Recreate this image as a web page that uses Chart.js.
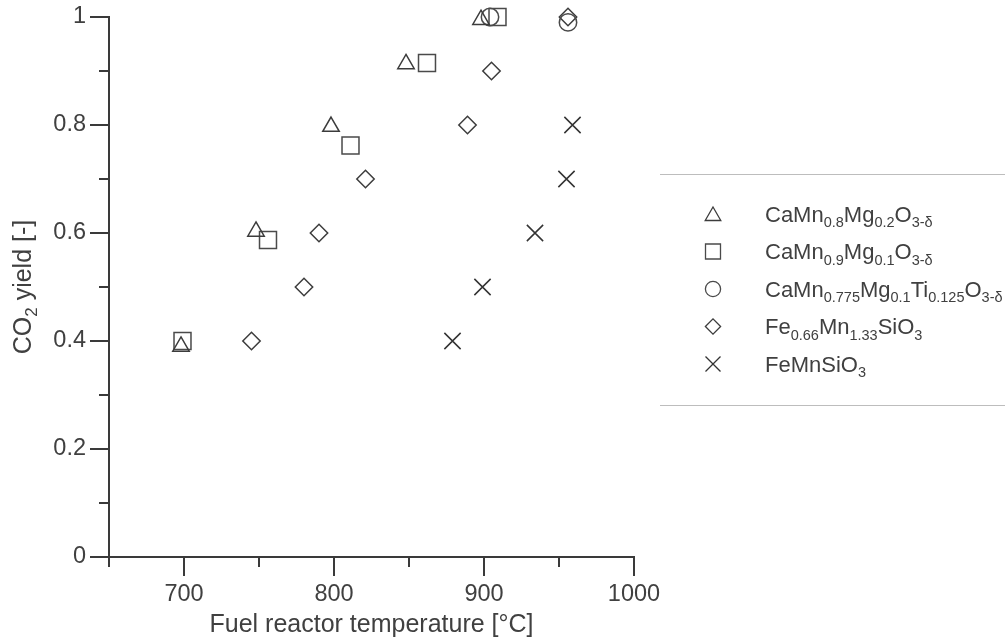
<!DOCTYPE html>
<html><head><meta charset="utf-8">
<script src="https://cdn.jsdelivr.net/npm/chart.js@4.4.0/dist/chart.umd.min.js"></script>
<style>html,body{margin:0;padding:0;background:#fff;overflow:hidden;}</style>
</head><body>
<canvas id="c" width="1005" height="642"></canvas>
<script>
// ---- data ----
const seriesNames = ['CaMn_{0.8}Mg_{0.2}O_{3-δ}', 'CaMn_{0.9}Mg_{0.1}O_{3-δ}', 'CaMn_{0.775}Mg_{0.1}Ti_{0.125}O_{3-δ}', 'Fe_{0.66}Mn_{1.33}SiO_{3}', 'FeMnSiO_{3}'];
const tempA = [698, 748, 798, 848, 898];
const yieldA = [0.39, 0.603, 0.797, 0.913, 0.995];
const tempB = [699, 756, 811, 862, 909];
const yieldB = [0.40, 0.587, 0.762, 0.915, 1.0];
const tempC = [904, 956];
const yieldC = [1.0, 0.99];
const tempD = [745, 780, 790, 821, 889, 905, 956];
const yieldD = [0.40, 0.50, 0.60, 0.70, 0.80, 0.90, 1.0];
const tempE = [879, 899, 934, 955, 959];
const yieldE = [0.40, 0.50, 0.60, 0.70, 0.80];
const xMajorTicks = [700, 800, 900, 1000];
const xMinorTicks = [650, 750, 850, 950];
const yMajorTicks = [0, 0.2, 0.4, 0.6, 0.8, 1];
const yMinorTicks = [0.1, 0.3, 0.5, 0.7, 0.9];
const xTitle = 'Fuel reactor temperature [°C]';
const yTitle = 'CO_{2} yield [-]';

const pointStyles = ['triangle', 'rect', 'circle', 'rectRot', 'crossRot'];
const pointRadii = [9.5, 12, 8.7, 8.7, 11.5];
const legendRadii = [9, 10.6, 7.6, 7.6, 10.6];
const markerColors = ['#3c3c3c', '#4a4a4a', '#4a4a4a', '#3c3c3c', '#333333'];
const TXT = '#404040';
const AXIS = '#3a3a3a';
const FONT = '"Liberation Sans", Arial, sans-serif';

const xs = [tempA, tempB, tempC, tempD, tempE];
const ys = [yieldA, yieldB, yieldC, yieldD, yieldE];
const datasets = seriesNames.map((n, i) => ({
  label: n,
  data: xs[i].map((x, j) => ({x: x, y: ys[i][j]})),
  pointStyle: pointStyles[i],
  pointRadius: pointRadii[i],
  pointHoverRadius: pointRadii[i],
  pointBorderColor: markerColors[i],
  pointBackgroundColor: 'rgba(0,0,0,0)',
  pointBorderWidth: 1.5,
  showLine: false,
  clip: false
}));

function parseRich(s) {
  const parts = []; const re = /_\{([^}]*)\}/g; let last = 0, m;
  while ((m = re.exec(s))) {
    if (m.index > last) parts.push({t: s.slice(last, m.index), sub: false});
    parts.push({t: m[1], sub: true}); last = re.lastIndex;
  }
  if (last < s.length) parts.push({t: s.slice(last), sub: false});
  return parts;
}
function drawRich(ctx, s, x, y, size, subSize, align) {
  const parts = parseRich(s);
  let w = 0;
  parts.forEach(p => { ctx.font = (p.sub ? subSize : size) + 'px ' + FONT; p.w = ctx.measureText(p.t).width; w += p.w; });
  let cx = align === 'center' ? x - w / 2 : x;
  const base = y + size * 0.36;
  ctx.textBaseline = 'alphabetic'; ctx.textAlign = 'left';
  parts.forEach(p => {
    ctx.font = (p.sub ? subSize : size) + 'px ' + FONT;
    ctx.fillText(p.t, cx, p.sub ? base + size * 0.24 : base);
    cx += p.w;
  });
}

const axesPlugin = {
  id: 'axesPlugin',
  beforeDatasetsDraw(chart) {
    const ctx = chart.ctx, xS = chart.scales.x, yS = chart.scales.y;
    const ax = xS.left, ay = yS.bottom;
    ctx.save();
    ctx.strokeStyle = AXIS; ctx.lineWidth = 2; ctx.lineCap = 'butt';
    ctx.beginPath();
    ctx.moveTo(ax, yS.top - 1); ctx.lineTo(ax, ay);
    ctx.moveTo(ax - 1, ay); ctx.lineTo(xS.right + 1, ay);
    yMajorTicks.forEach(v => { const p = yS.getPixelForValue(v); ctx.moveTo(ax - 19, p); ctx.lineTo(ax, p); });
    yMinorTicks.forEach(v => { const p = yS.getPixelForValue(v); ctx.moveTo(ax - 10, p); ctx.lineTo(ax, p); });
    xMajorTicks.forEach(v => { const p = xS.getPixelForValue(v); ctx.moveTo(p, ay); ctx.lineTo(p, ay + 19); });
    xMinorTicks.forEach(v => { const p = xS.getPixelForValue(v); ctx.moveTo(p, ay); ctx.lineTo(p, ay + 10); });
    ctx.stroke();
    // titles
    ctx.fillStyle = TXT;
    drawRich(ctx, xTitle, (xS.left + xS.right) / 2, 623, 25, 17, 'center');
    ctx.translate(22, (yS.top + yS.bottom) / 2);
    ctx.rotate(-Math.PI / 2);
    drawRich(ctx, yTitle, 0, 0, 25, 17, 'center');
    ctx.restore();
  },
  afterDraw(chart) {
    const ctx = chart.ctx;
    ctx.save();
    ctx.strokeStyle = '#bdbdbd'; ctx.lineWidth = 1;
    ctx.beginPath();
    ctx.moveTo(660, 174.5); ctx.lineTo(1005, 174.5);
    ctx.moveTo(660, 405.5); ctx.lineTo(1005, 405.5);
    ctx.stroke();
    seriesNames.forEach((n, i) => {
      const y = 214 + i * 37.5;
      ctx.strokeStyle = markerColors[i]; ctx.fillStyle = 'rgba(0,0,0,0)'; ctx.lineWidth = 1.3;
      Chart.helpers.drawPoint(ctx, {pointStyle: pointStyles[i], radius: legendRadii[i], borderWidth: 1.3, rotation: 0}, 713, y + (i === 0 ? 2 : 0));
      ctx.fillStyle = TXT;
      drawRich(ctx, n, 765, y, 22, 14.5, 'left');
    });
    ctx.restore();
  }
};

new Chart(document.getElementById('c'), {
  type: 'scatter',
  data: {datasets: datasets},
  plugins: [axesPlugin],
  options: {
    responsive: false, animation: false, devicePixelRatio: 1,
    layout: {padding: {left: 0, right: 371, top: 17, bottom: 0}},
    plugins: {legend: {display: false}, tooltip: {enabled: false}},
    scales: {
      x: {
        type: 'linear', min: 650, max: 1000,
        afterFit: s => { s.height = 85; s.paddingLeft = 0; s.paddingRight = 0; },
        afterBuildTicks: s => { s.ticks = xMajorTicks.map(v => ({value: v})); },
        grid: {display: false, drawTicks: false}, border: {display: false},
        ticks: {color: TXT, font: {family: FONT, size: 23.5}, padding: 23, maxRotation: 0, autoSkip: false,
          callback: v => String(v)}
      },
      y: {
        type: 'linear', min: 0, max: 1,
        afterFit: s => { s.width = 109; s.paddingTop = 0; s.paddingBottom = 0; },
        afterBuildTicks: s => { s.ticks = yMajorTicks.map(v => ({value: v})); },
        grid: {display: false, drawTicks: false}, border: {display: false},
        ticks: {color: TXT, font: {family: FONT, size: 23.5}, padding: 23, autoSkip: false,
          callback: v => (Math.round(v * 10) / 10).toString()}
      }
    }
  }
});
</script>
</body></html>
